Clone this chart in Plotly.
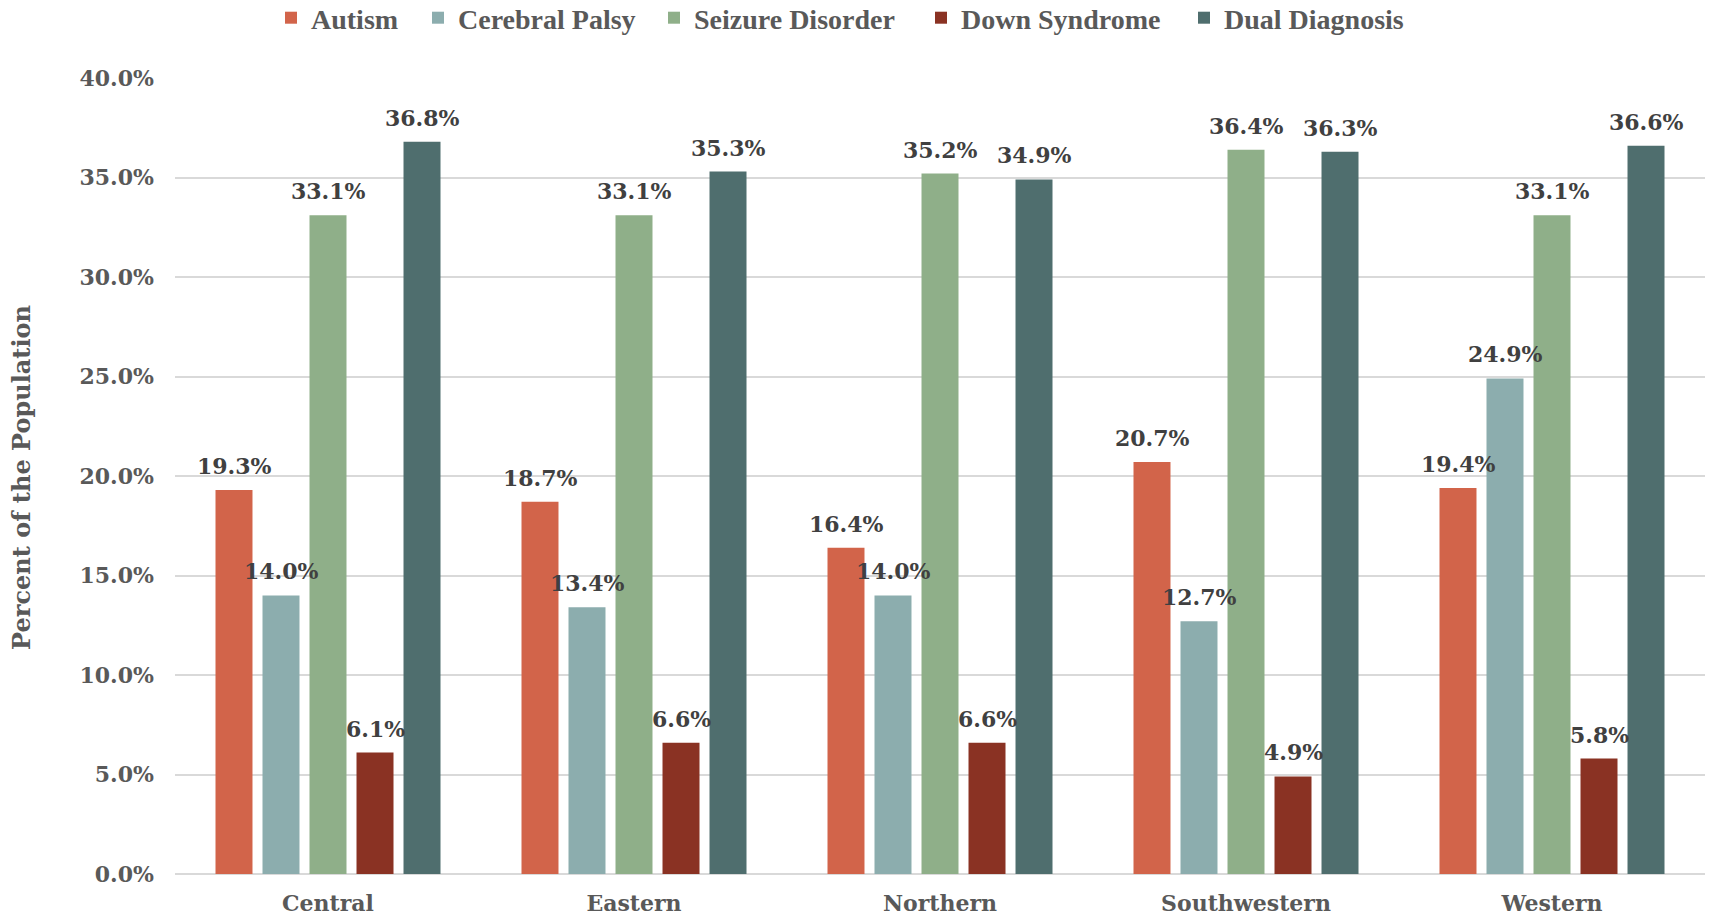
import plotly.graph_objects as go

regions = ["Central", "Eastern", "Northern", "Southwestern", "Western"]
series_names = ["Autism", "Cerebral Palsy", "Seizure Disorder", "Down Syndrome", "Dual Diagnosis"]
autism = [0.193, 0.187, 0.164, 0.207, 0.194]
cerebral_palsy = [0.140, 0.134, 0.140, 0.127, 0.249]
seizure_disorder = [0.331, 0.331, 0.352, 0.364, 0.331]
down_syndrome = [0.061, 0.066, 0.066, 0.049, 0.058]
dual_diagnosis = [0.368, 0.353, 0.349, 0.363, 0.366]
colors = ["#D2644A", "#8CADAE", "#8FAF89", "#8A3223", "#4F6E6E"]
y_ticks = [0, 0.05, 0.10, 0.15, 0.20, 0.25, 0.30, 0.35, 0.40]

FONT = "DejaVu Serif"
LEG_FONT = "Liberation Serif"
W, H = 1710, 917
BARGAP = 0.232
N = len(series_names)
# legend entry text start positions (px, container)
legend_text_x = [308, 455, 691, 958, 1221]

all_series = [autism, cerebral_palsy, seizure_disorder, down_syndrome, dual_diagnosis]

fig = go.Figure()
annotations = []
legend_layouts = {}
slot = (1 - BARGAP) / N
for j, (name, vals, col) in enumerate(zip(series_names, all_series, colors)):
    lname = "legend" if j == 0 else f"legend{j+1}"
    fig.add_trace(go.Bar(
        name=name, x=regions, y=vals,
        marker=dict(color=col, line=dict(width=0)),
        legend=lname, showlegend=True,
    ))
    legend_layouts[lname] = dict(
        orientation="h", xref="container", yref="container",
        x=(legend_text_x[j] - 37) / W, xanchor="left",
        y=1 - 18 / H, yanchor="middle",
        font=dict(family=LEG_FONT, size=28, color="#595959", weight="bold"),
        itemwidth=30, bgcolor="rgba(0,0,0,0)",
    )
    for i, v in enumerate(vals):
        annotations.append(dict(
            x=i + (j - (N - 1) / 2) * slot, y=v, xref="x", yref="y",
            text=f"{v*100:.1f}%", showarrow=False,
            xanchor="center", yanchor="bottom", yshift=9,
            font=dict(family=FONT, size=22, color="#404040", weight="bold"),
        ))

annotations.append(dict(text="Percent of the Population", xref="paper", yref="paper",
                        x=-0.1, y=0.4976, xanchor="center", yanchor="middle",
                        textangle=-90, showarrow=False,
                        font=dict(family=FONT, size=24, color="#595959", weight="bold")))

fig.update_layout(
    width=W, height=H,
    showlegend=True,
    margin=dict(l=175, r=5, t=78, b=43, autoexpand=False),
    paper_bgcolor="white", plot_bgcolor="white",
    barmode="group", bargap=BARGAP, bargroupgap=0.213,
    font=dict(family=FONT, color="#595959"),
    xaxis=dict(showgrid=False, showline=False, ticks="", ticklabelstandoff=14,
               tickfont=dict(family=FONT, size=22, color="#595959", weight="bold")),
    yaxis=dict(range=[0, 0.4], tickvals=y_ticks, tickformat=".1%",
               showgrid=True, gridcolor="#D9D9D9", gridwidth=2,
               zeroline=True, zerolinecolor="#D9D9D9", zerolinewidth=2,
               showline=False, ticks="", ticklabelstandoff=20,
               tickfont=dict(family=FONT, size=22, color="#595959", weight="bold")),
    annotations=annotations,
    **legend_layouts,
)

fig.write_html("out.html")
